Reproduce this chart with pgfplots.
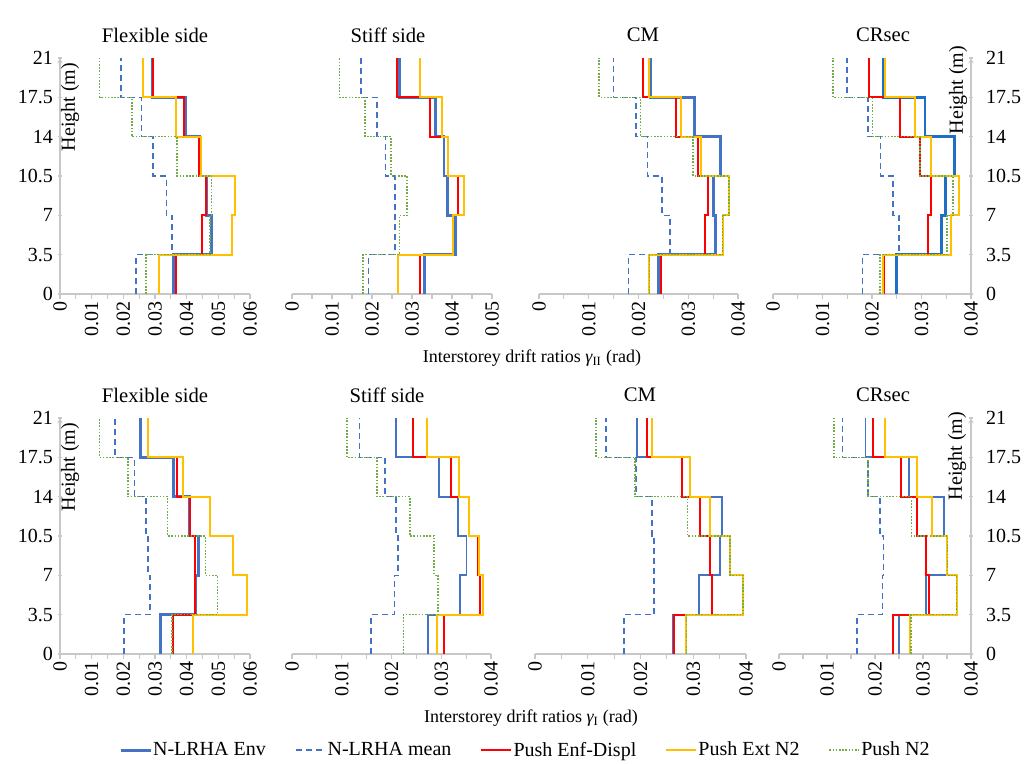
\documentclass[border=0pt]{standalone}
\usepackage{fontspec}
\setmainfont{Liberation Serif}
\usepackage{pgfplots}
\usepackage{pgfplotstable}
\pgfplotsset{compat=1.18}

\definecolor{cenv}{HTML}{4472C4}
\definecolor{cenvb}{HTML}{1F6FC4}
\definecolor{cmean}{HTML}{4472C4}
\definecolor{cenf}{HTML}{FF0000}
\definecolor{cext}{HTML}{FFC000}
\definecolor{cntwo}{HTML}{70AD47}
\definecolor{axgray}{HTML}{C8C8C8}

\newcommand{\fs}{\fontsize{15}{18}\selectfont}

% columns: h = storey base height (last row repeats top storey), values = drift ratios
\pgfplotstableread{
h    env    mean   enf    ext    ntwo
0    0.0357 0.0240 0.0366 0.0314 0.0271
3.5  0.0477 0.0354 0.0447 0.0544 0.0474
7    0.0464 0.0336 0.0462 0.0553 0.0479
10.5 0.0440 0.0294 0.0438 0.0444 0.0369
14   0.0395 0.0257 0.0391 0.0367 0.0227
17.5 0.0291 0.0192 0.0295 0.0263 0.0125
21   0.0291 0.0192 0.0295 0.0263 0.0125
}\tA
\pgfplotstableread{
h    env    mean   enf    ext    ntwo
0    0.0332 0.0191 0.0319 0.0265 0.0178
3.5  0.0409 0.0257 0.0403 0.0403 0.0269
7    0.0388 0.0257 0.0415 0.0429 0.0288
10.5 0.0380 0.0234 0.0390 0.0390 0.0248
14   0.0358 0.0212 0.0346 0.0376 0.0183
17.5 0.0269 0.0173 0.0262 0.0319 0.0119
21   0.0269 0.0173 0.0262 0.0319 0.0119
}\tB
\pgfplotstableread{
h    env    mean   enf    ext    ntwo
0    0.0241 0.0180 0.0245 0.0222 0.0222
3.5  0.0354 0.0263 0.0334 0.0369 0.0369
7    0.0350 0.0247 0.0340 0.0382 0.0382
10.5 0.0365 0.0218 0.0320 0.0325 0.0310
14   0.0313 0.0195 0.0275 0.0285 0.0204
17.5 0.0224 0.0150 0.0209 0.0221 0.0121
21   0.0224 0.0150 0.0209 0.0221 0.0121
}\tC
\pgfplotstableread{
h    env    mean   enf    ext    ntwo
0    0.0250 0.0181 0.0225 0.0223 0.0216
3.5  0.0341 0.0255 0.0314 0.0360 0.0351
7    0.0349 0.0243 0.0319 0.0375 0.0364
10.5 0.0366 0.0217 0.0297 0.0320 0.0297
14   0.0307 0.0192 0.0256 0.0287 0.0201
17.5 0.0224 0.0150 0.0194 0.0227 0.0121
21   0.0224 0.0150 0.0194 0.0227 0.0121
}\tD
\pgfplotstableread{
h    env    mean   enf    ext    ntwo
0    0.0318 0.0203 0.0356 0.0421 0.0353
3.5  0.0428 0.0285 0.0426 0.0589 0.0497
7    0.0436 0.0277 0.0426 0.0545 0.0459
10.5 0.0409 0.0271 0.0409 0.0475 0.0340
14   0.0358 0.0235 0.0369 0.0390 0.0214
17.5 0.0253 0.0174 0.0279 0.0277 0.0125
21   0.0253 0.0174 0.0279 0.0277 0.0125
}\tE
\pgfplotstableread{
h    env    mean   enf    ext    ntwo
0    0.0274 0.0159 0.0306 0.0291 0.0224
3.5  0.0338 0.0206 0.0377 0.0383 0.0294
7    0.0351 0.0213 0.0373 0.0375 0.0286
10.5 0.0333 0.0209 0.0355 0.0356 0.0237
14   0.0296 0.0187 0.0319 0.0336 0.0171
17.5 0.0209 0.0136 0.0243 0.0271 0.0110
21   0.0209 0.0136 0.0243 0.0271 0.0110
}\tF
\pgfplotstableread{
h    env    mean   enf    ext    ntwo
0    0.0261 0.0169 0.0264 0.0287 0.0287
3.5  0.0311 0.0226 0.0335 0.0394 0.0394
7    0.0351 0.0226 0.0332 0.0370 0.0370
10.5 0.0354 0.0222 0.0313 0.0331 0.0289
14   0.0278 0.0192 0.0278 0.0294 0.0190
17.5 0.0194 0.0135 0.0213 0.0222 0.0116
21   0.0194 0.0135 0.0213 0.0222 0.0116
}\tG
\pgfplotstableread{
h    env    mean   enf    ext    ntwo
0    0.0250 0.0163 0.0237 0.0273 0.0275
3.5  0.0306 0.0216 0.0312 0.0370 0.0370
7    0.0349 0.0218 0.0307 0.0351 0.0351
10.5 0.0344 0.0211 0.0288 0.0318 0.0276
14   0.0271 0.0186 0.0255 0.0287 0.0186
17.5 0.0180 0.0132 0.0195 0.0221 0.0114
21   0.0180 0.0132 0.0195 0.0221 0.0114
}\tH

\pgfplotsset{
  drift/.style={
    scale only axis, anchor=south west, height=177pt,
    ymin=0, ymax=21, clip=false,
    scaled x ticks=false, scaled y ticks=false,
    axis x line=bottom,
    axis line style={draw=axgray, line width=0.8pt, -},
    tick style={draw=axgray, line width=0.8pt},
    tick align=outside, major tick length=3.5pt, minor tick length=3.5pt,
    xticklabel style={rotate=90, anchor=east, font=\fs, inner sep=2pt},
    yticklabel style={font=\fs},
    ytick={0,3.5,7,10.5,14,17.5,21},
    yticklabels={0,3.5,7,10.5,14,17.5,21},
    every axis plot/.append style={const plot mark right},
  },
  xsix/.style={xmin=0, xmax=0.06,
    xtick={0,0.01,0.02,0.03,0.04,0.05,0.06},
    xticklabels={0,0.01,0.02,0.03,0.04,0.05,0.06},
    minor xtick={0.005,0.015,0.025,0.035,0.045,0.055}},
  xfive/.style={xmin=0, xmax=0.05,
    xtick={0,0.01,0.02,0.03,0.04,0.05},
    xticklabels={0,0.01,0.02,0.03,0.04,0.05},
    minor xtick={0.005,0.015,0.025,0.035,0.045}},
  xfour/.style={xmin=0, xmax=0.04,
    xtick={0,0.01,0.02,0.03,0.04},
    xticklabels={0,0.01,0.02,0.03,0.04},
    minor xtick={0.005,0.015,0.025,0.035}},
  yleft/.style={axis y line=left},
  ynone/.style={axis y line=none, ytick=\empty},
  yright/.style={axis y line=right, yticklabel style={xshift=6pt}},
  penv/.style={draw=cenv, line width=2.2pt},
  penvthin/.style={draw=cenv, line width=1.3pt},
  pmean/.style={draw=cmean, line width=1.2pt, dash pattern=on 4.5pt off 3pt},
  penf/.style={draw=cenf, line width=1.5pt},
  pext/.style={draw=cext, line width=1.5pt},
  pntwo/.style={draw=cntwo, line width=1.2pt, dash pattern=on 1.2pt off 1.2pt},
}

\begin{document}
\begin{tikzpicture}
\path[use as bounding box] (0,0) rectangle (768.75pt,573pt);

% ---------- top row ----------
\begin{axis}[drift, xsix, yleft, at={(45pt,352.5pt)}, width=142.5pt]
\addplot[penv] table[x=env,y=h]{\tA};
\addplot[pmean] table[x=mean,y=h]{\tA};
\addplot[penf] table[x=enf,y=h]{\tA};
\addplot[pext] table[x=ext,y=h]{\tA};
\addplot[pntwo] table[x=ntwo,y=h]{\tA};
\end{axis}
\begin{axis}[drift, xfive, ynone, at={(219pt,352.5pt)}, width=150pt]
\addplot[penv] table[x=env,y=h]{\tB};
\addplot[pmean] table[x=mean,y=h]{\tB};
\addplot[penf] table[x=enf,y=h]{\tB};
\addplot[pext] table[x=ext,y=h]{\tB};
\addplot[pntwo] table[x=ntwo,y=h]{\tB};
\end{axis}
\begin{axis}[drift, xfour, ynone, at={(404.25pt,352.5pt)}, width=149.25pt]
\addplot[penv] table[x=env,y=h]{\tC};
\addplot[pmean] table[x=mean,y=h]{\tC};
\addplot[penf] table[x=enf,y=h]{\tC};
\addplot[pext] table[x=ext,y=h]{\tC};
\addplot[pntwo] table[x=ntwo,y=h]{\tC};
\end{axis}
\begin{axis}[drift, xfour, yright, at={(579.75pt,352.5pt)}, width=148.5pt]
\addplot[penv, draw=cenvb] table[x=env,y=h]{\tD};
\addplot[pmean] table[x=mean,y=h]{\tD};
\addplot[penf] table[x=enf,y=h]{\tD};
\addplot[pext] table[x=ext,y=h]{\tD};
\addplot[pntwo] table[x=ntwo,y=h]{\tD};
\end{axis}

% ---------- bottom row ----------
\begin{axis}[drift, xsix, yleft, at={(45pt,82.5pt)}, width=142.5pt,
  legend columns=5,
  legend style={at={(2.447,-0.407)}, anchor=center, draw=none, fill=none,
    font=\fs, nodes={inner xsep=0.8pt, inner ysep=1pt},
    /tikz/every even column/.append style={column sep=21pt}},
  legend image code/.code={\draw[#1] (0pt,0pt) -- (22.5pt,0pt);}]
\addplot[penv] table[x=env,y=h]{\tE};
\addlegendentry{N-LRHA Env}
\addplot[pmean] table[x=mean,y=h]{\tE};
\addlegendentry{N-LRHA mean}
\addplot[penf] table[x=enf,y=h]{\tE};
\addlegendentry{Push Enf-Displ}
\addplot[pext] table[x=ext,y=h]{\tE};
\addlegendentry{Push Ext N2}
\addplot[pntwo] table[x=ntwo,y=h]{\tE};
\addlegendentry{Push N2}
\end{axis}
\begin{axis}[drift, xfour, ynone, at={(219pt,82.5pt)}, width=149.25pt]
\addplot[penvthin] table[x=env,y=h]{\tF};
\addplot[pmean] table[x=mean,y=h]{\tF};
\addplot[penf] table[x=enf,y=h]{\tF};
\addplot[pext] table[x=ext,y=h]{\tF};
\addplot[pntwo] table[x=ntwo,y=h]{\tF};
\end{axis}
\begin{axis}[drift, xfour, ynone, at={(401.25pt,82.5pt)}, width=158.25pt]
\addplot[penvthin] table[x=env,y=h]{\tG};
\addplot[pmean] table[x=mean,y=h]{\tG};
\addplot[penf] table[x=enf,y=h]{\tG};
\addplot[pext] table[x=ext,y=h]{\tG};
\addplot[pntwo] table[x=ntwo,y=h]{\tG};
\end{axis}
\begin{axis}[drift, xfour, yright, at={(584.25pt,82.5pt)}, width=144pt]
\addplot[penvthin] table[x=env,y=h]{\tH};
\addplot[pmean] table[x=mean,y=h]{\tH};
\addplot[penf] table[x=enf,y=h]{\tH};
\addplot[pext] table[x=ext,y=h]{\tH};
\addplot[pntwo] table[x=ntwo,y=h]{\tH};
\end{axis}

% ---------- texts ----------
\begin{scope}[x=0.75pt,y=0.75pt]
\def\tfs{\fontsize{15.5}{18}\selectfont}
\def\lfs{\fontsize{13.5}{16}\selectfont}
\node[font=\tfs] at (155,729) {Flexible side};
\node[font=\tfs] at (388,729) {Stiff side};
\node[font=\tfs] at (643,729) {CM};
\node[font=\tfs] at (883,729) {CRsec};
\node[font=\tfs] at (155,369) {Flexible side};
\node[font=\tfs] at (387,369) {Stiff side};
\node[font=\tfs] at (640,369) {CM};
\node[font=\tfs] at (883,369) {CRsec};
\node[font=\fs, rotate=90] at (70,657) {Height (m)};
\node[font=\fs, rotate=90] at (958,674) {Height (m)};
\node[font=\fs, rotate=90] at (70,297) {Height (m)};
\node[font=\fs, rotate=90] at (957,308) {Height (m)};
\node[font=\lfs] at (532,406) {Interstorey drift ratios {\itshape γ}\textsubscript{II} (rad)};
\node[font=\lfs] at (531,46) {Interstorey drift ratios {\itshape γ}\textsubscript{I} (rad)};
\end{scope}
\end{tikzpicture}
\end{document}
